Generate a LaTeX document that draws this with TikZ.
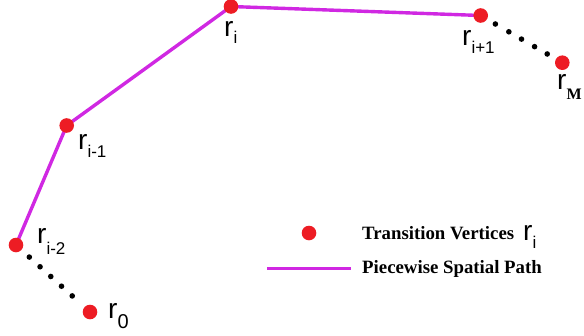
\documentclass[tikz,border=0pt]{standalone}
\usepackage{fontspec}
\setmainfont{Liberation Sans}
\newfontfamily\legendfont{Liberation Serif}
\usetikzlibrary{calc}
\definecolor{vertexred}{RGB}{237,28,36}
\definecolor{pathviolet}{RGB}{208,40,226}
% vertex label: large r with a lowered index
\newcommand{\vlab}[2][8pt]{{\fontsize{28}{28}\selectfont r}\raisebox{-#1}{\fontsize{17}{17}\selectfont #2}}
\begin{document}
\begin{tikzpicture}[x=1pt,y=-1pt,
  vertex/.style={circle,fill=vertexred,inner sep=0pt,minimum size=14.6pt},
  gapdot/.style={circle,fill=black,inner sep=0pt,minimum size=5.6pt},
  segment/.style={line width=3.4pt,draw=pathviolet},
  vlabel/.style={anchor=base west,inner sep=0pt},
  legendtext/.style={anchor=base west,inner sep=0pt,font=\legendfont\bfseries\fontsize{18.8}{21}\selectfont}]
\useasboundingbox (0,0) rectangle (584,335);

% vertices along the path
\coordinate (p0) at (90,312);
\coordinate (p1) at (16,245);
\coordinate (p2) at (66.7,125.5);
\coordinate (p3) at (231,6.5);
\coordinate (p4) at (480.7,15.5);
\coordinate (p5) at (562.3,62.7);

% piecewise path
\draw[segment] (p1) -- (p2) -- (p3) -- (p4);

% omitted vertices shown as dots
\foreach \t in {0.18,0.325,0.47,0.615,0.76}
  \node[gapdot] at ($(p1)!\t!(p0)$) {};
\foreach \t in {0.18,0.345,0.50,0.66,0.815}
  \node[gapdot] at ($(p4)!\t!(p5)$) {};

\foreach \p in {p0,p1,p2,p3,p4,p5}
  \node[vertex] (v\p) at (\p) {};

% labels
\node[vlabel] (l0) at (108,318) {\vlab[10pt]{\fontsize{20}{20}\selectfont 0}};
\node[vlabel] (l1) at (37,243.7) {\vlab[11pt]{i-2}};
\node[vlabel] (l2) at (78,149) {\vlab{i-1}};
\node[vlabel] (l3) at (224,36) {\vlab[7pt]{i}};
\node[vlabel] (l4) at (462,45.7) {\vlab{i+1}};
\node[vlabel] (l5) at (557,89.7) {{\fontsize{28}{28}\selectfont r}\raisebox{-10pt}{\legendfont\bfseries\fontsize{16}{16}\selectfont M}};

% legend
\node[vertex] (legdot) at (309,233) {};
\coordinate (legA) at (267,268.3);
\coordinate (legB) at (351,268.3);
\draw[line width=3.2pt,draw=pathviolet] (legA) -- (legB);
\node[legendtext] (legT) at (362,239.5) {Transition Vertices};
\node[vlabel] (legR) at (523,240) {\vlab{i}};
\node[legendtext] (legP) at (362,273.5) {Piecewise Spatial Path};
\end{tikzpicture}
\end{document}
